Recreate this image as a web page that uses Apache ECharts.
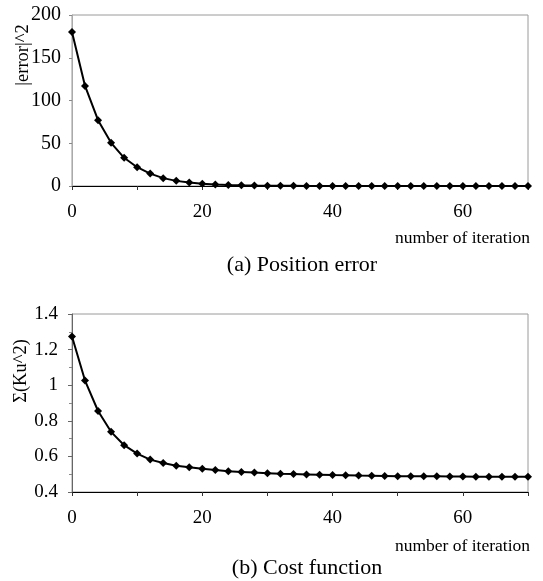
<!DOCTYPE html>
<html>
<head>
<meta charset="utf-8">
<script src="https://cdn.jsdelivr.net/npm/echarts@6/dist/echarts.min.js"></script>
<style>
html,body{margin:0;padding:0;background:#fff;}
#chart{width:543px;height:581px;}
</style>
</head>
<body>
<div id="chart"></div>
<script>
// Iterations (x values, every 2 iterations)
const iterations = [0,2,4,6,8,10,12,14,16,18,20,22,24,26,28,30,32,34,36,38,40,42,44,46,48,50,52,54,56,58,60,62,64,66,68,70];
// (a) Position error |error|^2
const positionError = [180,117,77,50.5,33,22,14.5,9.2,6,4,2.7,1.8,1.2,0.8,0.5,0.35,0.23,0.15,0.1,0.07,0.05,0.03,0.02,0.02,0.01,0.01,0.01,0,0,0,0,0,0,0,0,0];
// (b) Cost function Σ(Ku^2)
const costFunction = [1.274,1.026,0.855,0.738,0.663,0.616,0.582,0.563,0.548,0.539,0.530,0.523,0.517,0.513,0.509,0.506,0.503,0.501,0.499,0.497,0.495,0.494,0.492,0.491,0.490,0.489,0.489,0.488,0.488,0.487,0.487,0.486,0.486,0.485,0.485,0.485];
const xTicks = [0,20,40,60];
const titles = ['(a) Position error','(b) Cost function'];
const yNames = ['|error|^2','\u03A3(Ku^2)'];
const xName = 'number of iteration';

const serif = '"Liberation Serif","DejaVu Serif",serif';
const pairs = (ys) => iterations.map((x,i)=>[x, ys[i]]);

const chart = echarts.init(document.getElementById('chart'));
const xAxisBase = (gi) => ({
  type:'value', gridIndex:gi, min:0, max:70, interval:10,
  axisLine:{show:true, onZero:false, lineStyle:{color:'#000', width:1}},
  axisTick:{show:true, length:4, lineStyle:{color:'#333'}},
  splitLine:{show:false},
  axisLabel:{color:'#000', fontFamily:serif, fontSize:19, margin:17,
    formatter:(v)=> xTicks.indexOf(v)>=0 ? String(v) : ''}
});
chart.setOption({
  animation:false,
  backgroundColor:'#fff',
  grid:[
    {left:72, top:15, width:456, height:171, show:true, borderColor:'#9a9a9a', borderWidth:1},
    {left:72, top:314, width:456, height:178, show:true, borderColor:'#9a9a9a', borderWidth:1}
  ],
  xAxis:[xAxisBase(0), xAxisBase(1)],
  yAxis:[
    {type:'value', gridIndex:0, min:0, max:200, interval:50,
     axisLine:{show:true, lineStyle:{color:'#aaa'}},
     axisTick:{show:true, length:3, lineStyle:{color:'#888'}},
     splitLine:{show:false},
     axisLabel:{color:'#000', fontFamily:serif, fontSize:20, margin:11}},
    {type:'value', gridIndex:1, min:0.4, max:1.4, interval:0.2,
     axisLine:{show:true, lineStyle:{color:'#666'}},
     axisTick:{show:true, length:4, lineStyle:{color:'#666'}},
     minorTick:{show:true, splitNumber:2, length:3, lineStyle:{color:'#888'}},
     splitLine:{show:false},
     axisLabel:{color:'#000', fontFamily:serif, fontSize:19, margin:14,
       formatter:(v)=> String(Math.round(v*10)/10)}}
  ],
  series:[
    {type:'line', xAxisIndex:0, yAxisIndex:0, data:pairs(positionError),
     symbol:'diamond', symbolSize:8, lineStyle:{color:'#000', width:2},
     itemStyle:{color:'#000'}, clip:false},
    {type:'line', xAxisIndex:1, yAxisIndex:1, data:pairs(costFunction),
     symbol:'diamond', symbolSize:8, lineStyle:{color:'#000', width:2},
     itemStyle:{color:'#000'}, clip:false}
  ],
  graphic:[
    {type:'text', x:23, y:55, rotation:Math.PI/2, style:{text:yNames[0], font:'18.5px '+serif, fill:'#000', textAlign:'center', textVerticalAlign:'middle'}},
    {type:'text', x:21, y:371, rotation:Math.PI/2, style:{text:yNames[1], font:'18.5px '+serif, fill:'#000', textAlign:'center', textVerticalAlign:'middle'}},
    {type:'text', x:530, y:238, style:{text:xName, font:'17.5px '+serif, fill:'#000', textAlign:'right', textVerticalAlign:'middle'}},
    {type:'text', x:530, y:546, style:{text:xName, font:'17.5px '+serif, fill:'#000', textAlign:'right', textVerticalAlign:'middle'}},
    {type:'text', x:302, y:265, style:{text:titles[0], font:'22px '+serif, fill:'#000', textAlign:'center', textVerticalAlign:'middle'}},
    {type:'text', x:307, y:568, style:{text:titles[1], font:'22px '+serif, fill:'#000', textAlign:'center', textVerticalAlign:'middle'}}
  ]
});
</script>
</body>
</html>
